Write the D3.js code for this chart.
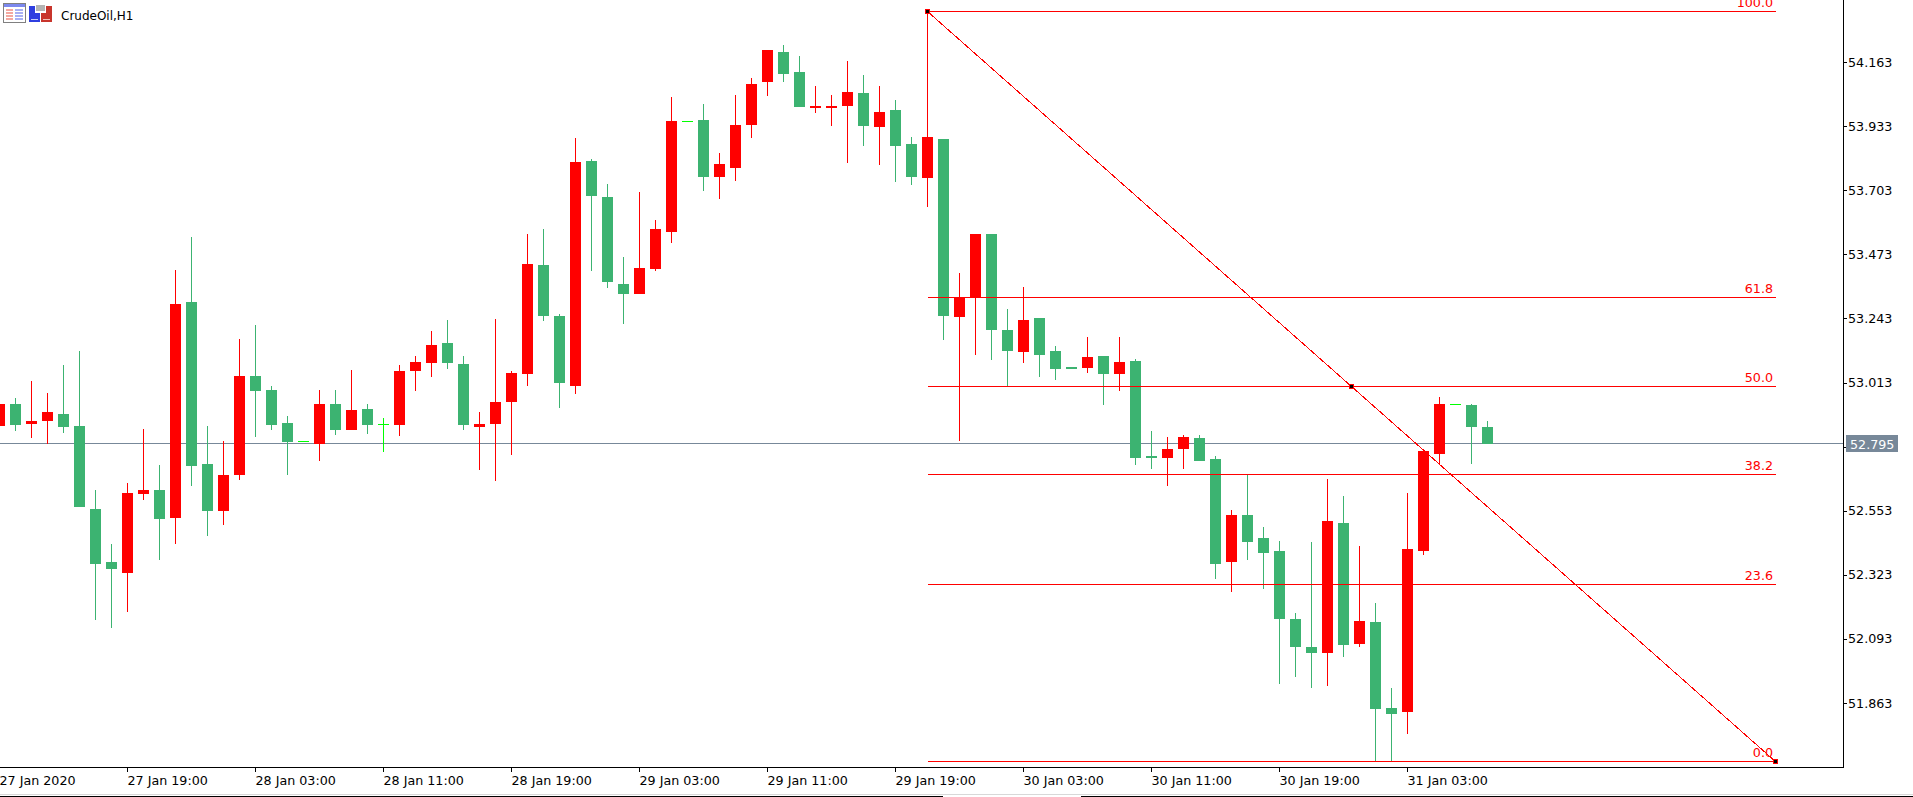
<!DOCTYPE html>
<html>
<head>
<meta charset="utf-8">
<title>CrudeOil,H1</title>
<script src="https://cdn.jsdelivr.net/npm/d3@7/dist/d3.min.js"></script>
<style>
html,body{margin:0;padding:0;background:#fff;overflow:hidden}
svg{display:block}
text{font-family:"DejaVu Sans",sans-serif;font-size:12.7px}
</style>
</head>
<body>
<svg id="chart" width="1913" height="797"></svg>
<script>
const symbolTitle = "CrudeOil,H1";
const open = [
52.857,52.936,52.864,52.875,52.900,52.857,52.559,52.369,52.330,52.613,
52.627,52.527,53.302,52.721,52.552,52.681,53.036,52.986,52.868,52.803,
52.792,52.936,52.843,52.918,52.864,52.861,53.054,53.083,53.155,53.079,
52.853,52.864,52.943,53.044,53.435,53.252,53.000,53.808,53.679,53.367,
53.331,53.420,53.553,53.951,53.955,53.750,53.783,53.937,54.091,54.199,
54.127,53.998,53.998,54.005,54.052,53.930,53.991,53.869,53.747,53.887,
53.248,53.316,53.546,53.202,53.123,53.245,53.126,53.069,53.065,53.108,
53.044,53.090,52.749,52.742,52.775,52.814,52.739,52.369,52.538,52.455,
52.408,52.165,52.064,52.043,52.509,52.075,52.154,51.845,51.831,52.408,
52.757,52.936,52.932,52.853];
const high = [
52.936,52.958,53.018,52.975,53.076,53.126,52.627,52.434,52.652,52.846,
52.717,53.417,53.535,52.857,52.803,53.169,53.219,53.000,52.893,52.803,
52.986,52.986,53.058,52.936,52.886,53.076,53.108,53.198,53.237,53.108,
52.907,53.241,53.054,53.546,53.564,53.259,53.890,53.815,53.725,53.463,
53.697,53.596,54.037,53.951,54.012,53.836,54.045,54.106,54.206,54.224,
54.185,54.077,54.045,54.167,54.116,54.077,54.027,53.894,54.346,53.887,
53.406,53.546,53.546,53.277,53.356,53.245,53.144,53.069,53.176,53.108,
53.176,53.097,52.839,52.818,52.825,52.825,52.749,52.556,52.681,52.495,
52.444,52.186,52.441,52.667,52.606,52.426,52.222,51.917,52.617,52.775,
52.961,52.936,52.936,52.875];
const low = [
52.857,52.839,52.814,52.792,52.832,52.566,52.161,52.132,52.190,52.591,
52.376,52.434,52.642,52.462,52.502,52.663,52.818,52.843,52.681,52.803,
52.731,52.825,52.843,52.828,52.764,52.821,52.983,53.033,53.062,52.843,
52.699,52.660,52.753,53.000,53.234,52.922,52.972,53.413,53.352,53.223,
53.331,53.413,53.514,53.951,53.700,53.672,53.736,53.890,54.041,54.091,
54.002,53.980,53.933,53.801,53.862,53.794,53.733,53.722,53.643,53.166,
52.803,53.112,53.094,53.000,53.083,53.033,53.022,53.062,53.047,52.932,
52.983,52.717,52.703,52.642,52.703,52.731,52.308,52.261,52.376,52.272,
51.931,51.956,51.917,51.924,52.028,52.064,51.655,51.655,51.752,52.394,
52.717,52.936,52.721,52.792];
const close = [
52.936,52.861,52.875,52.907,52.853,52.566,52.362,52.344,52.617,52.627,
52.523,53.295,52.714,52.552,52.681,53.036,52.983,52.861,52.800,52.803,
52.936,52.843,52.914,52.861,52.864,53.054,53.087,53.148,53.083,52.861,
52.864,52.943,53.047,53.438,53.252,53.011,53.804,53.682,53.374,53.331,
53.424,53.564,53.951,53.951,53.750,53.797,53.937,54.084,54.206,54.120,
54.002,54.005,54.005,54.055,53.933,53.984,53.862,53.750,53.894,53.252,
53.316,53.546,53.202,53.126,53.237,53.112,53.062,53.062,53.105,53.044,
53.087,52.742,52.742,52.775,52.818,52.731,52.362,52.538,52.441,52.401,
52.165,52.064,52.043,52.516,52.071,52.157,51.842,51.824,52.416,52.767,
52.936,52.936,52.853,52.792];

const timeTickIndex = [0,8,16,24,32,40,48,56,64,72,80,88];
const timeTickLabels = ["27 Jan 2020","27 Jan 19:00","28 Jan 03:00","28 Jan 11:00","28 Jan 19:00","29 Jan 03:00","29 Jan 11:00","29 Jan 19:00","30 Jan 03:00","30 Jan 11:00","30 Jan 19:00","31 Jan 03:00"];
const priceTicks = [54.163,53.933,53.703,53.473,53.243,53.013,52.783,52.553,52.323,52.093,51.863];
const currentPrice = 52.795;
const fibLevels = [100,61.8,50,38.2,23.6,0];
const fibHigh = 54.346, fibLow = 51.655;
const fibStartIndex = 58, fibEndIndex = 111;

const RED = "#ff0000", GREEN = "#3cb371", LIME = "#00ff00", SLATE = "#778899";
const axisX = 1843, axisY = 767;

const x = d3.scaleLinear().domain([0,93]).range([-0.5,1487.5]);
const y = d3.scaleLinear().domain([51.863,54.163]).range([703,62]);
const py = v => Math.round(y(v));

const svg = d3.select("#chart");
const color = i => close[i] > open[i] ? RED : close[i] < open[i] ? GREEN : LIME;
const idx = d3.range(open.length);

// current price line, behind candles
svg.append("line").attr("x1",0).attr("x2",axisX)
  .attr("y1",py(currentPrice)+0.5).attr("y2",py(currentPrice)+0.5)
  .attr("stroke",SLATE).attr("stroke-width",1).attr("shape-rendering","crispEdges");

// clip marks to the plot window
svg.append("clipPath").attr("id","plot").append("rect").attr("width",axisX).attr("height",axisY);
const plot = svg.append("g").attr("clip-path","url(#plot)").attr("shape-rendering","crispEdges");

plot.selectAll("rect.wick").data(idx).join("rect").attr("class","wick")
  .attr("x",i=>x(i)-0.5).attr("width",1)
  .attr("y",i=>py(high[i])).attr("height",i=>Math.max(py(low[i])-py(high[i]),1))
  .attr("fill",color);

plot.selectAll("rect.body").data(idx).join("rect").attr("class","body")
  .attr("x",i=>x(i)-5.5).attr("width",11)
  .attr("y",i=>py(Math.max(open[i],close[i])))
  .attr("height",i=>Math.max(py(Math.min(open[i],close[i]))-py(Math.max(open[i],close[i])),1))
  .attr("fill",color);

// Fibonacci retracement
const fibPrice = p => fibLow + (fibHigh-fibLow)*p/100;
const fx0 = x(fibStartIndex), fx1 = x(fibEndIndex);
const fib = svg.append("g");
fib.selectAll("line.level").data(fibLevels).join("line").attr("class","level")
  .attr("x1",fx0+0.5).attr("x2",fx1+0.5)
  .attr("y1",d=>py(fibPrice(d))+0.5).attr("y2",d=>py(fibPrice(d))+0.5)
  .attr("stroke",RED).attr("stroke-width",1).attr("shape-rendering","crispEdges");
fib.append("line")
  .attr("x1",fx0).attr("y1",py(fibHigh)+0.5).attr("x2",fx1).attr("y2",py(fibLow)+0.5)
  .attr("stroke",RED).attr("stroke-width",1).attr("shape-rendering","crispEdges");
fib.selectAll("text").data(fibLevels).join("text")
  .attr("x",fx1-2.5).attr("y",d=>py(fibPrice(d))-4)
  .attr("text-anchor","end").attr("fill",RED)
  .text(d=>d.toFixed(1));
const handles = [[fibStartIndex,fibHigh],[(fibStartIndex+fibEndIndex)/2,(fibHigh+fibLow)/2],[fibEndIndex,fibLow]];
fib.selectAll("rect").data(handles).join("rect")
  .attr("x",d=>Math.floor(x(d[0]))-1.5).attr("y",d=>py(d[1])-1.5)
  .attr("width",4).attr("height",4)
  .attr("fill","#000").attr("stroke",RED).attr("stroke-width",1).attr("shape-rendering","crispEdges");

// axes
const frame = svg.append("g").attr("stroke","#000").attr("stroke-width",1).attr("shape-rendering","crispEdges");
frame.append("line").attr("x1",axisX+0.5).attr("x2",axisX+0.5).attr("y1",0).attr("y2",axisY+1);
frame.append("line").attr("x1",0).attr("x2",axisX+1).attr("y1",axisY+0.5).attr("y2",axisY+0.5);

const axisRight = d3.axisRight(y).tickValues(priceTicks).tickSize(4).tickPadding(1)
  .tickFormat(d=>d===52.783?"":d.toFixed(3));
const gy = svg.append("g").attr("transform",`translate(${axisX},0)`).call(axisRight);
const axisBottom = d3.axisBottom(x).tickValues(timeTickIndex).tickSize(4).tickPadding(4).offset(0)
  .tickFormat(d=>timeTickLabels[timeTickIndex.indexOf(d)]);
const gx = svg.append("g").attr("transform",`translate(0,${axisY+0.5})`).call(axisBottom);
[gx,gy].forEach(g=>{
  g.select(".domain").remove();
  g.attr("font-family",null).attr("font-size",null);
  g.selectAll("line").attr("shape-rendering","crispEdges").attr("stroke","#000");
  g.selectAll("text").attr("fill","#000");
});
gx.selectAll("text").attr("text-anchor","start");

// current price tag
const tagY = py(currentPrice);
svg.append("rect").attr("x",axisX+3).attr("y",tagY-8).attr("width",52).attr("height",17).attr("fill",SLATE);
svg.append("text").attr("x",axisX+7).attr("y",tagY+5.5).attr("fill","#fff").text(currentPrice.toFixed(3));

// title and icons
svg.append("text").attr("x",61).attr("y",19.5).attr("fill","#000").style("font-size","12px").text(symbolTitle);
const icons = svg.append("g").attr("shape-rendering","crispEdges");
icons.append("rect").attr("x",3.5).attr("y",3.5).attr("width",22).attr("height",19).attr("rx",1).attr("fill","#fff").attr("stroke","#808080");
icons.append("rect").attr("x",4).attr("y",4).attr("width",21).attr("height",3).attr("fill","#7c88ee");
icons.append("rect").attr("x",6).attr("y",9).attr("width",7).attr("height",11).attr("fill","#f4a8a0");
icons.append("rect").attr("x",15).attr("y",9).attr("width",8).attr("height",11).attr("fill","#a8b0f4");
[11,14,17].forEach(v=>{
  icons.append("rect").attr("x",6).attr("y",v).attr("width",17).attr("height",1).attr("fill","#fff");
});
icons.append("path").attr("d","M29 6h6v7h5v9h-11z").attr("fill","#2f3fe0");
icons.append("path").attr("d","M46 6h6v16h-11v-9h5z").attr("fill","#c8352c");
icons.append("rect").attr("x",36).attr("y",5).attr("width",9).attr("height",6).attr("fill","#b4b4b4");
icons.append("rect").attr("x",31).attr("y",19).attr("width",7).attr("height",1).attr("fill","#c8ccf8");
icons.append("rect").attr("x",43).attr("y",19).attr("width",7).attr("height",1).attr("fill","#f0c0b8");

// window border at the bottom
const border = svg.append("g").attr("shape-rendering","crispEdges");
border.append("rect").attr("x",0).attr("y",794).attr("width",1913).attr("height",1).attr("fill","#d8d8d8");
border.append("rect").attr("x",0).attr("y",796).attr("width",943).attr("height",1).attr("fill","#000");
border.append("rect").attr("x",1081).attr("y",796).attr("width",832).attr("height",1).attr("fill","#000");
</script>
</body>
</html>
